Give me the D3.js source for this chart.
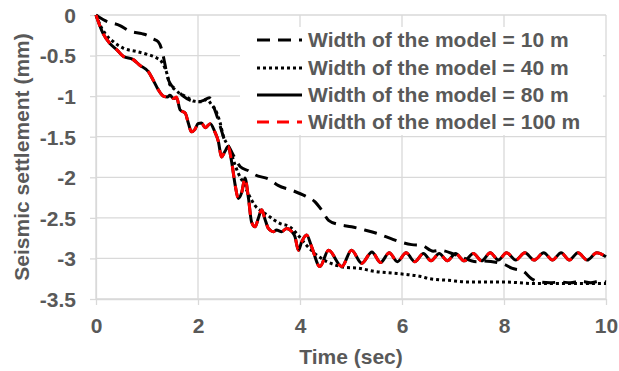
<!DOCTYPE html>
<html>
<head>
<meta charset="utf-8">
<script src="https://cdn.jsdelivr.net/npm/d3@7"></script>
<style>
  html, body { margin: 0; padding: 0; background: #fff; }
  svg { display: block; }
  text { font-family: "Liberation Sans", Arial, sans-serif; font-weight: bold; fill: #595959; }
</style>
</head>
<body>
<svg id="chart" width="619" height="371"></svg>
<script>
// Seismic settlement histories, [time (s), settlement (mm)]
const width10 = [
  [0,0],[0.18,-0.07],[0.47,-0.13],[0.67,-0.20],[0.9,-0.23],[1.0,-0.25],[1.1,-0.29],
  [1.22,-0.33],[1.29,-0.43],[1.35,-0.60],[1.40,-0.76],[1.46,-0.85],[1.58,-0.92],
  [1.71,-1.00],[1.84,-1.05],[2.0,-1.07],[2.12,-1.05],[2.22,-1.02],[2.33,-1.17],
  [2.43,-1.36],[2.52,-1.54],[2.62,-1.64],[2.73,-1.77],[2.83,-1.87],[2.99,-1.92],
  [3.12,-1.97],[3.41,-2.03],[3.57,-2.10],[3.84,-2.16],[4.1,-2.23],[4.29,-2.30],
  [4.42,-2.40],[4.56,-2.53],[4.75,-2.58],[5.01,-2.61],[5.27,-2.65],[5.5,-2.69],
  [5.76,-2.75],[5.93,-2.79],[6.19,-2.83],[6.39,-2.84],[6.61,-2.91],[6.75,-2.90],
  [7.07,-2.96],[7.46,-3.04],[7.59,-3.03],[7.99,-3.07],[8.15,-3.12],[8.38,-3.16],
  [8.54,-3.25],[8.7,-3.29],[8.9,-3.30],[9.1,-3.29],[9.3,-3.30],[9.5,-3.28],
  [9.7,-3.30],[9.88,-3.28],[10,-3.29]
];

const width40 = [
  [0,0],[0.11,-0.16],[0.18,-0.23],[0.34,-0.33],[0.54,-0.41],[0.8,-0.45],[1.03,-0.49],
  [1.19,-0.53],[1.29,-0.58],[1.39,-0.72],[1.45,-0.86],[1.55,-0.92],[1.65,-0.97],
  [1.78,-1.01],[1.91,-1.06],[2.07,-1.07],[2.17,-1.04],[2.27,-1.11],[2.37,-1.21],
  [2.43,-1.32],[2.5,-1.50],[2.56,-1.58],[2.63,-1.66],[2.7,-1.80],[2.79,-1.95],
  [2.89,-2.07],[3.0,-2.22],[3.12,-2.35],[3.25,-2.42],[3.35,-2.46],[3.5,-2.53],
  [3.61,-2.57],[3.8,-2.61],[3.93,-2.69],[4.13,-2.84],[4.33,-2.96],[4.5,-3.03],
  [4.69,-3.08],[4.88,-3.11],[5.14,-3.12],[5.47,-3.16],[5.8,-3.18],[6.12,-3.20],
  [6.35,-3.22],[6.55,-3.25],[6.91,-3.27],[7.3,-3.29],[7.99,-3.29],[8.6,-3.31],
  [9.3,-3.31],[10,-3.31]
];

const width80 = [
  [0,0],[0.14,-0.23],[0.27,-0.35],[0.41,-0.43],[0.54,-0.51],[0.73,-0.55],[0.86,-0.62],
  [1.03,-0.70],[1.12,-0.80],[1.22,-0.92],[1.32,-1.00],[1.40,-1.01],[1.45,-0.99],
  [1.52,-1.03],[1.58,-1.02],[1.65,-1.17],[1.75,-1.21],[1.81,-1.33],[1.87,-1.44],
  [1.94,-1.41],[2.0,-1.34],[2.07,-1.33],[2.14,-1.39],[2.24,-1.34],[2.33,-1.44],
  [2.4,-1.56],[2.46,-1.75],[2.53,-1.68],[2.59,-1.62],[2.66,-1.81],[2.73,-2.10],
  [2.79,-2.26],[2.86,-2.18],[2.92,-2.01],[2.99,-2.26],[3.05,-2.55],[3.12,-2.61],
  [3.18,-2.51],[3.25,-2.40],[3.31,-2.51],[3.38,-2.63],[3.48,-2.67],[3.54,-2.65],
  [3.64,-2.67],[3.74,-2.63],[3.84,-2.67],[3.90,-2.73],[3.97,-2.90],[4.03,-2.80],
  [4.13,-2.71],[4.23,-2.86],[4.39,-3.10],[4.56,-2.90],[4.82,-3.10],[5.01,-2.90],
  [5.21,-3.06],[5.41,-2.92],[5.58,-3.05],[5.75,-2.93],[5.91,-3.04],[6.08,-2.93],
  [6.25,-3.04],[6.42,-2.94],[6.57,-3.03],[6.73,-2.94],[6.89,-3.03],[7.05,-2.94],
  [7.22,-3.03],[7.40,-2.94],[7.56,-3.03],[7.73,-2.93],[7.89,-3.02],[8.05,-2.93],
  [8.23,-3.02],[8.41,-2.93],[8.59,-3.02],[8.78,-2.93],[8.95,-3.02],[9.12,-2.93],
  [9.28,-3.02],[9.45,-2.93],[9.63,-3.02],[9.82,-2.93],[10,-2.98]
];

const width100 = [
  [0,0],[0.14,-0.23],[0.27,-0.35],[0.41,-0.43],[0.54,-0.51],[0.73,-0.55],[0.86,-0.62],
  [1.03,-0.70],[1.12,-0.80],[1.22,-0.92],[1.32,-1.00],[1.40,-1.01],[1.45,-0.99],
  [1.52,-1.03],[1.58,-1.01],[1.65,-1.17],[1.75,-1.21],[1.81,-1.33],[1.87,-1.44],
  [1.94,-1.41],[2.0,-1.34],[2.07,-1.33],[2.14,-1.39],[2.24,-1.34],[2.33,-1.44],
  [2.4,-1.56],[2.46,-1.75],[2.53,-1.68],[2.59,-1.62],[2.66,-1.81],[2.73,-2.10],
  [2.79,-2.26],[2.86,-2.18],[2.92,-2.01],[2.99,-2.26],[3.05,-2.55],[3.12,-2.61],
  [3.18,-2.51],[3.25,-2.40],[3.31,-2.51],[3.38,-2.63],[3.48,-2.67],[3.54,-2.65],
  [3.64,-2.67],[3.74,-2.63],[3.84,-2.67],[3.90,-2.73],[3.97,-2.90],[4.03,-2.80],
  [4.13,-2.71],[4.23,-2.86],[4.39,-3.10],[4.56,-2.90],[4.82,-3.10],[5.01,-2.90],
  [5.21,-3.06],[5.41,-2.92],[5.58,-3.05],[5.75,-2.93],[5.91,-3.04],[6.08,-2.93],
  [6.25,-3.04],[6.42,-2.94],[6.57,-3.03],[6.73,-2.94],[6.89,-3.03],[7.05,-2.94],
  [7.22,-3.03],[7.40,-2.94],[7.56,-3.03],[7.73,-2.93],[7.89,-3.02],[8.05,-2.93],
  [8.23,-3.02],[8.41,-2.93],[8.59,-3.02],[8.78,-2.93],[8.95,-3.02],[9.12,-2.93],
  [9.28,-3.02],[9.45,-2.93],[9.63,-3.02],[9.82,-2.93],[10,-2.98]
];

const seriesNames = [
  "Width of the model = 10 m",
  "Width of the model = 40 m",
  "Width of the model = 80 m",
  "Width of the model = 100 m"
];
const xTicks = [0, 2, 4, 6, 8, 10];
const yTicks = [0, -0.5, -1, -1.5, -2, -2.5, -3, -3.5];
const xTitle = "Time (sec)";
const yTitle = "Seismic settlement (mm)";

// line styles, drawn in this order (red dashed on top of black solid)
const styles = [
  { data: width10,  color: "#000", dash: "13,8" },
  { data: width40,  color: "#000", dash: "3,3" },
  { data: width80,  color: "#000", dash: null },
  { data: width100, color: "#ff0000", dash: "12,8" }
];

const fontSize = "21px";
const svg = d3.select("#chart");
const plot = { left: 96, right: 606, top: 15, bottom: 299 };

const x = d3.scaleLinear().domain([0, 10]).range([plot.left, plot.right]);
const y = d3.scaleLinear().domain([-3.5, 0]).range([plot.bottom, plot.top]);

const gridColor = "#d9d9d9";

// gridlines
svg.append("g").selectAll("line.h").data(yTicks).join("line")
  .attr("x1", plot.left).attr("x2", plot.right)
  .attr("y1", d => y(d)).attr("y2", d => y(d))
  .attr("stroke", gridColor).attr("stroke-width", 1.3);
svg.append("g").selectAll("line.v").data(xTicks).join("line")
  .attr("x1", d => x(d)).attr("x2", d => x(d))
  .attr("y1", plot.top).attr("y2", plot.bottom)
  .attr("stroke", gridColor).attr("stroke-width", 1.3);

// axes with outward tick marks
const xAxis = svg.append("g").attr("transform", `translate(0,${plot.bottom})`)
  .call(d3.axisBottom(x).tickValues(xTicks).tickSize(6).tickSizeOuter(0).tickFormat(d3.format("d")));
const yAxis = svg.append("g").attr("transform", `translate(${plot.left},0)`)
  .call(d3.axisLeft(y).tickValues(yTicks).tickSize(6).tickSizeOuter(0).tickFormat(d => d === 0 ? "0" : String(d)));
[xAxis, yAxis].forEach(g => {
  g.select(".domain").attr("stroke", gridColor).attr("stroke-width", 1.3);
  g.selectAll(".tick line").attr("stroke", gridColor).attr("stroke-width", 1.3);
  g.selectAll(".tick text").attr("fill", "#595959")
    .style("font-family", '"Liberation Sans", Arial, sans-serif')
    .style("font-weight", "bold").style("font-size", fontSize);
});
xAxis.selectAll(".tick text").attr("y", 27).attr("dy", "0.35em");
yAxis.selectAll(".tick text").attr("x", -20).attr("dy", "0.35em");

// axis titles
svg.append("text").attr("x", (plot.left + plot.right) / 2).attr("y", 357)
  .attr("text-anchor", "middle").attr("dy", "0.35em")
  .style("font-size", fontSize).text(xTitle);
svg.append("text")
  .attr("transform", `translate(22,${(plot.top + plot.bottom) / 2}) rotate(-90)`)
  .attr("text-anchor", "middle").attr("dy", "0.35em")
  .style("font-size", fontSize).text(yTitle);

// data lines
const line = d3.line().x(d => x(d[0])).y(d => y(d[1])).curve(d3.curveMonotoneX);
const lines = svg.append("g");
styles.forEach(s => {
  lines.append("path").datum(s.data)
    .attr("d", line)
    .attr("fill", "none")
    .attr("stroke", s.color)
    .attr("stroke-width", 3)
    .attr("stroke-linejoin", "round")
    .attr("stroke-dasharray", s.dash);
});

// legend on a white panel
const legend = svg.append("g");
legend.append("rect").attr("x", 240).attr("y", 27).attr("width", 363).attr("height", 108)
  .attr("fill", "#fff");
const rowY = [40, 68, 95, 122];
styles.forEach((s, i) => {
  legend.append("line")
    .attr("x1", 257).attr("x2", 302).attr("y1", rowY[i]).attr("y2", rowY[i])
    .attr("stroke", s.color).attr("stroke-width", 3)
    .attr("stroke-dasharray", s.dash);
  legend.append("text").attr("x", 308).attr("y", rowY[i]).attr("dy", "0.35em")
    .style("font-size", fontSize).text(seriesNames[i]);
});
</script>
</body>
</html>
